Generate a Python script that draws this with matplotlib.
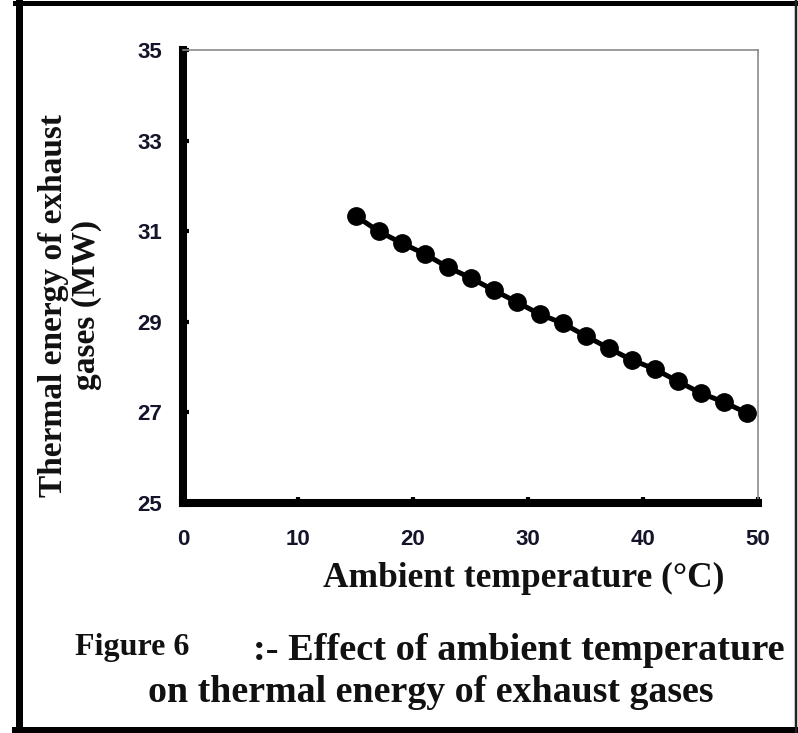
import matplotlib
matplotlib.use('Agg')
import matplotlib.pyplot as plt
from matplotlib.lines import Line2D

# ambient temperature (C) vs thermal energy of exhaust gases (MW)
temps = [15, 17, 19, 21, 23, 25, 27, 29, 31, 33, 35, 37, 39, 41, 43, 45, 47, 49]
energy = [31.34, 31.00, 30.74, 30.50, 30.21, 29.97, 29.70, 29.44, 29.17,
          28.97, 28.69, 28.42, 28.16, 27.96, 27.69, 27.43, 27.23, 26.99]

xticks = [0, 10, 20, 30, 40, 50]
yticks = [25, 27, 29, 31, 33, 35]

W, H = 798, 733
fig = plt.figure(figsize=(W / 100, H / 100), dpi=100)
fig.patch.set_facecolor('white')

ax = fig.add_axes([183 / W, 1 - 503 / H, (758 - 183) / W, (503 - 50) / H])
ax.plot(temps, energy, color='black', lw=3.6, marker='o', ms=12.5,
        mfc='black', mec='black', solid_capstyle='round', clip_on=False)

ax.set_xlim(0, 50)
ax.set_ylim(25, 35)
ax.set_xticks(xticks)
ax.set_yticks(yticks)

for side in ['left', 'bottom']:
    ax.spines[side].set_linewidth(5.8)
    ax.spines[side].set_color('black')
    ax.spines[side].set_capstyle('projecting')
for side in ['top', 'right']:
    ax.spines[side].set_linewidth(1.2)
    ax.spines[side].set_color('#8a8a8a')

ax.tick_params(axis='both', direction='in', length=4, width=3, color='black')
ax.tick_params(axis='y', pad=15)
ax.tick_params(axis='x', pad=19)
for lab in ax.get_xticklabels() + ax.get_yticklabels():
    lab.set_fontfamily('Liberation Sans')
    lab.set_fontweight('bold')
    lab.set_fontsize(16)
    lab.set_color('#14142a')

serif = dict(family='Liberation Serif', weight='bold', color='#111111')
fig.text(524 / W, 1 - 578 / H, 'Ambient temperature (\u00b0C)', ha='center', va='center',
         fontsize=25.5, **serif)
fig.text(70 / W, 1 - 305 / H, 'Thermal energy of exhaust\ngases (MW)', ha='center', va='center',
         rotation=90, multialignment='center', fontsize=24, linespacing=1.05, **serif)

# caption under the chart
fig.text(75 / W, 1 - 647 / H, 'Figure 6', ha='left', va='center', fontsize=23, **serif)
fig.text(253 / W, 1 - 650 / H, ':- Effect of ambient temperature', ha='left', va='center',
         fontsize=27.6, **serif)
fig.text(148 / W, 1 - 692 / H, 'on thermal energy of exhaust gases', ha='left', va='center',
         fontsize=27.3, **serif)

# page frame around everything
px = 0.72
x0 = 15 / W
fig.add_artist(Line2D([18.5 / W, 18.5 / W], [0, 1], transform=fig.transFigure,
                      color='black', lw=7 * px))
fig.add_artist(Line2D([x0, 1], [1 - 2.5 / H, 1 - 2.5 / H], transform=fig.transFigure,
                      color='black', lw=5 * px))
fig.add_artist(Line2D([x0, 1], [1 - 730 / H, 1 - 730 / H], transform=fig.transFigure,
                      color='black', lw=6 * px))
fig.add_artist(Line2D([795.5 / W, 795.5 / W], [0, 1], transform=fig.transFigure,
                      color='#222222', lw=2.5 * px))

fig.savefig('out.png', dpi=100)
